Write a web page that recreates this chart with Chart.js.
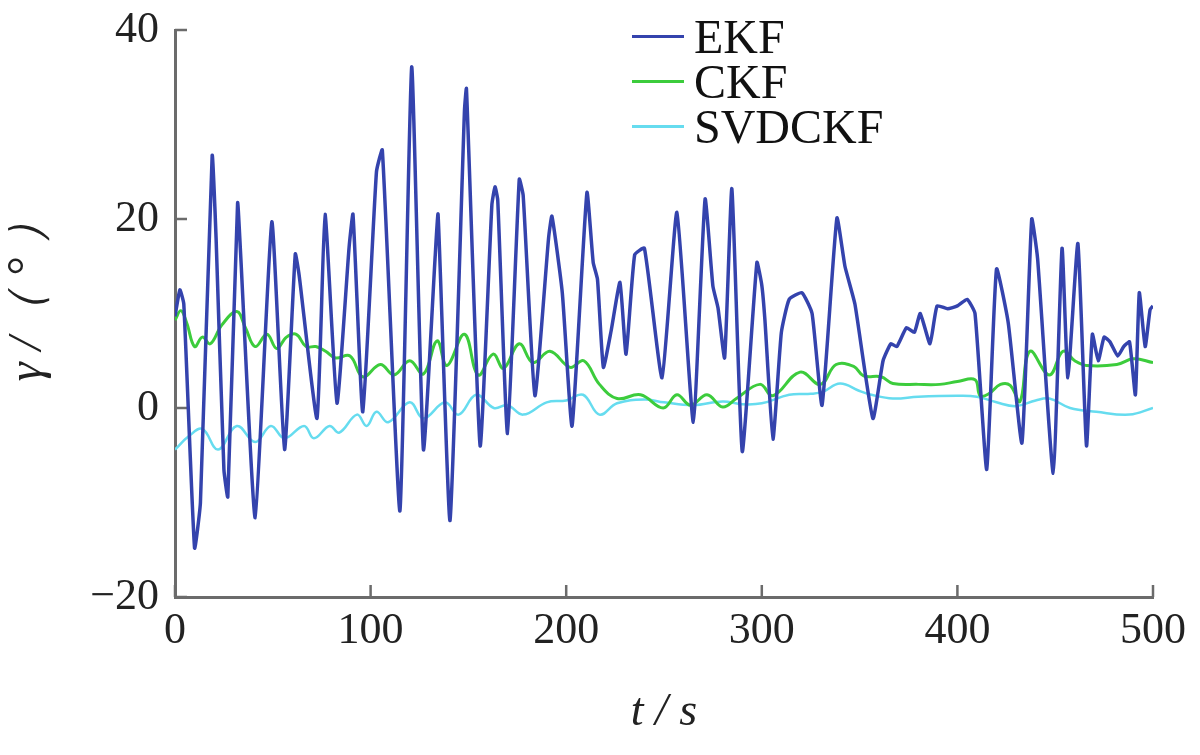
<!DOCTYPE html>
<html>
<head>
<meta charset="utf-8">
<script src="https://cdn.jsdelivr.net/npm/chart.js@4.4.0/dist/chart.umd.min.js"></script>
<style>
  body { margin: 0; background: #fff; }
  #wrap { position: relative; width: 1200px; height: 755px; }
  #legend { position: absolute; left: 632px; top: 14px; font-family: "Liberation Serif", serif; font-size: 48px; color: #111; }
  .row { display: flex; align-items: center; height: 45px; }
  .swatch { width: 52px; height: 3px; margin-right: 10px; }
</style>
</head>
<body>
<div id="wrap">
  <canvas id="yaw_chart" width="1200" height="755"></canvas>
  <div id="legend"></div>
</div>
<script>
// EKF estimate
const ekfT = [0, 2.5, 4.5, 10, 13, 19, 21, 25, 27, 32, 33.5, 41, 49.5, 56, 61.5, 63.5, 72.6, 76.7, 82.8, 89, 91, 96,
  103, 106, 115, 121, 127, 133, 134.5, 140.6, 148, 149, 156, 162, 163.6, 165, 170, 176, 178, 184, 191, 192.7,
  198, 203, 210.6, 213.8, 216, 219, 223, 227.5, 230.6, 235, 240, 249, 256.6, 265, 271, 275, 277.6, 281, 284.7,
  290, 297.5, 300, 301.6, 305.7, 310, 314, 320.5, 325.7, 330.8, 338.4, 342.5, 347.6, 356.8, 362, 366, 369, 374,
  378, 381, 386, 389.6, 395, 400, 405, 409, 415, 420, 426, 433, 438, 441, 449, 453.5, 456.5, 461.6, 466, 469,
  472, 475, 478, 482, 485, 488, 491, 493, 496, 498.5, 500];
const ekfY = [9.7, 12.5, 11, -14.8, -10, 26.7, 18, -6.5, -9.4, 21.7, 16.5, -11.6, 19.7, -4.4, 16.3, 14, -1.1, 20.5, 0.5, 17, 20.5, -0.4,
  25, 27.3, -10.9, 36.1, -4.4, 16, 20.5, -11.9, 31.5, 33.8, -4, 21.5, 23.4, 22, -2.7, 24.2, 22.5, 1.3, 18, 20.3,
  12.2, -1.9, 22.8, 15.4, 13.6, 4.3, 8.2, 13.3, 5.7, 16.2, 16.9, 3.2, 20.7, -1.5, 22.1, 12.9, 10.6, 5.3, 23.2,
  -4.6, 15.4, 13, 9.3, -3.3, 8, 11.5, 12.2, 10, 0.3, 20.1, 15, 11, -1.1, 5, 6.8, 6.5, 8.5,
  8, 10, 6.8, 10.8, 10.5, 10.8, 11.5, 10, -6.5, 14.7, 9, -3.7, 20, 15.8, -6.9, 16.9, 3.2, 17.4, -4, 7.8,
  5, 7.5, 7, 5.5, 6.5, 7, 1.4, 12.2, 6.5, 10.4, 10.8];

// CKF estimate
const ckfT = [0, 3, 6, 10, 14, 18, 24, 31.6, 36, 41, 47, 52, 57, 62, 67, 72, 77, 82, 89.5, 96, 105, 112, 120, 127,
  134, 139, 148, 155, 162.6, 168, 176, 183, 191.7, 202, 209, 217, 226, 238, 249.6, 256.6, 263.5, 272, 280, 287,
  299, 305.7, 319.5, 330, 338, 347, 352, 361, 367, 380, 391, 400, 409, 411.6, 416, 422, 427, 432, 437, 447, 454,
  460, 466, 481.5, 490, 500];
const ckfY = [9.3, 10.3, 9, 6.5, 7.5, 6.8, 8.8, 10.2, 8.5, 6.5, 7.8, 6.3, 7.5, 7.8, 6.5, 6.5, 6, 5.3, 5.5, 3.3, 4.6, 3.5, 5, 3.6,
  7.1, 4.5, 7.8, 3.5, 5.7, 4.2, 6.8, 4.8, 6, 4.3, 5, 2.5, 1, 1.4, 0, 1.4, 0.3, 1.4, 0.1, 1,
  2.5, 1.3, 3.8, 2.5, 4.6, 4.4, 3.4, 3.3, 2.6, 2.5, 2.5, 2.8, 3, 1.3, 1.5, 2.5, 2.4, 0.7, 6, 3.5, 6,
  5, 4.5, 4.6, 5.2, 4.8];

// SVDCKF estimate
const svdT = [0, 7, 14, 22, 31.6, 41, 49, 56, 66, 71, 79, 84, 93, 98, 103, 109, 120, 127, 138, 145, 154, 163, 170,
  178, 190, 200, 208.6, 217, 226, 240, 250, 265, 280, 290, 300, 314, 325, 331, 340, 350, 356, 367, 380, 400, 410,
  420, 430, 440, 447, 457.6, 471, 488, 500];
const svdY = [-4.4, -3, -2.2, -4.4, -1.9, -3.6, -1.9, -3.2, -1.9, -3.2, -1.9, -2.6, -0.7, -1.9, -0.4, -1.5, 0.6, -1.1, 0.6, -0.7, 1.4, 0, 0.3,
  -0.7, 0.6, 0.8, 1.4, -0.7, 0.5, 0.9, 0.6, 0.3, 0.7, 0.4, 0.5, 1.4, 1.5, 1.7, 2.6, 1.8, 1.4, 1, 1.2, 1.3, 1.2,
  0.6, 0.2, 0.8, 1, 0, -0.4, -0.7, 0];

const seriesNames = ['EKF', 'CKF', 'SVDCKF'];
const xTicks = [0, 100, 200, 300, 400, 500];
const yTicks = [-20, 0, 20, 40];

const toPoints = (t, v) => t.map((x, i) => ({ x: x, y: v[i] }));

// inward tick marks, like the original figure
const innerTicks = {
  id: 'innerTicks',
  beforeDatasetsDraw(chart) {
    const { ctx, scales: { x, y } } = chart;
    ctx.save();
    ctx.strokeStyle = '#6b6b6b';
    ctx.lineWidth = 2.5;
    ctx.beginPath();
    xTicks.forEach(v => {
      const px = x.getPixelForValue(v);
      ctx.moveTo(px, x.top);
      ctx.lineTo(px, x.top - 12);
    });
    yTicks.forEach(v => {
      const py = y.getPixelForValue(v);
      ctx.moveTo(y.right, py);
      ctx.lineTo(y.right + 12, py);
    });
    ctx.stroke();
    ctx.restore();
  }
};

const ctx = document.getElementById('yaw_chart').getContext('2d');
const chart = new Chart(ctx, {
  type: 'line',
  data: {
    datasets: [{
      label: seriesNames[0],
      data: toPoints(ekfT, ekfY),
      borderColor: '#3443ad',
      borderWidth: 3.5,
      pointRadius: 0,
      tension: 0.15
    }, {
      label: seriesNames[1],
      data: toPoints(ckfT, ckfY),
      borderColor: '#3ccc3c',
      borderWidth: 3,
      pointRadius: 0,
      tension: 0.4
    }, {
      label: seriesNames[2],
      data: toPoints(svdT, svdY),
      borderColor: '#66dcef',
      borderWidth: 2.5,
      pointRadius: 0,
      tension: 0.4
    }]
  },
  options: {
    responsive: false,
    animation: false,
    layout: { padding: { top: 22, right: 47, left: 0, bottom: 0 } },
    plugins: {
      legend: { display: false },
      tooltip: { enabled: false }
    },
    scales: {
      x: {
        type: 'linear',
        min: 0,
        max: 500,
        afterBuildTicks: s => { s.ticks = xTicks.map(v => ({ value: v })); },
        afterFit: s => { s.height = 158; },
        grid: { display: false },
        border: { color: '#6b6b6b', width: 3 },
        ticks: {
          color: '#222',
          padding: 0,
          maxRotation: 0,
          font: { family: 'Liberation Serif', size: 44 }
        },
        title: {
          display: true,
          text: 't / s',
          color: '#222',
          padding: { top: 0, bottom: 14 },
          font: { family: 'Liberation Serif', size: 46, style: 'italic' }
        }
      },
      y: {
        min: -20,
        max: 40,
        afterBuildTicks: s => { s.ticks = yTicks.map(v => ({ value: v })); },
        afterFit: s => { s.width = 175; },
        grid: { display: false },
        border: { color: '#6b6b6b', width: 3 },
        ticks: {
          color: '#222',
          padding: 8,
          font: { family: 'Liberation Serif', size: 44, lineHeight: 1 },
          callback: v => String(v).replace('-', '\u2212')
        },
        title: {
          display: true,
          text: '    γ /（ ° ）',
          color: '#222',
          padding: { top: 0, bottom: 14 },
          font: { family: 'Liberation Serif', size: 48, style: 'italic' }
        }
      }
    }
  },
  plugins: [innerTicks]
});

// legend as html, built from the datasets
const legend = document.getElementById('legend');
chart.data.datasets.forEach(ds => {
  const row = document.createElement('div');
  row.className = 'row';
  const sw = document.createElement('span');
  sw.className = 'swatch';
  sw.style.background = ds.borderColor;
  const txt = document.createElement('span');
  txt.textContent = ds.label;
  row.appendChild(sw);
  row.appendChild(txt);
  legend.appendChild(row);
});
</script>
</body>
</html>
